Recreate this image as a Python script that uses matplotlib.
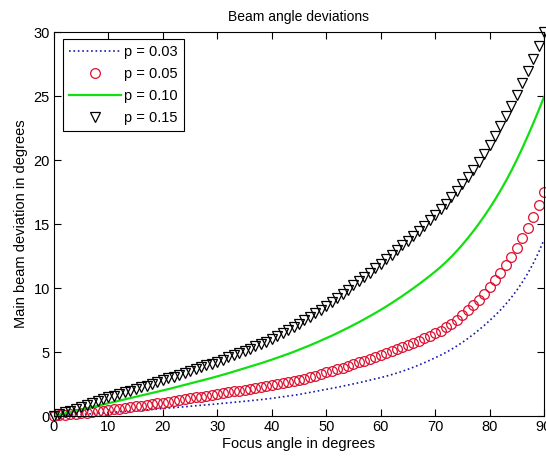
import matplotlib
matplotlib.use("Agg")
import matplotlib.pyplot as plt

plt.rcParams["font.family"] = ["Liberation Sans", "DejaVu Sans"]

focus_angle = list(range(0, 91))

dev_p003 = [
    0, 0.02, 0.05, 0.07, 0.1, 0.12,
    0.15, 0.18, 0.21, 0.24, 0.27,
    0.3, 0.33, 0.36, 0.39, 0.42,
    0.45, 0.48, 0.51, 0.55, 0.58,
    0.62, 0.65, 0.69, 0.72, 0.76,
    0.8, 0.84, 0.87, 0.91, 0.95,
    0.99, 1.03, 1.07, 1.11, 1.15,
    1.19, 1.24, 1.28, 1.33, 1.38,
    1.44, 1.5, 1.56, 1.62, 1.68,
    1.76, 1.84, 1.92, 2.0, 2.08,
    2.16, 2.24, 2.33, 2.42, 2.51,
    2.6, 2.7, 2.8, 2.9, 3.0,
    3.11, 3.23, 3.36, 3.5, 3.65,
    3.81, 3.98, 4.16, 4.35, 4.55,
    4.75, 4.97, 5.21, 5.47, 5.75,
    6.05, 6.37, 6.71, 7.07, 7.45,
    7.85, 8.28, 8.75, 9.26, 9.82,
    10.44, 11.13, 11.9, 12.77, 13.77,
]

dev_p005 = [
    0, 0.04, 0.09, 0.13, 0.18, 0.22,
    0.27, 0.32, 0.37, 0.42, 0.47,
    0.53, 0.58, 0.64, 0.69, 0.75,
    0.81, 0.87, 0.92, 0.98, 1.04,
    1.11, 1.18, 1.24, 1.31, 1.38,
    1.45, 1.52, 1.58, 1.65, 1.72,
    1.79, 1.85, 1.92, 1.98, 2.05,
    2.12, 2.19, 2.26, 2.33, 2.4,
    2.48, 2.56, 2.64, 2.72, 2.8,
    2.91, 3.02, 3.14, 3.27, 3.4,
    3.52, 3.65, 3.78, 3.91, 4.05,
    4.18, 4.32, 4.46, 4.6, 4.75,
    4.9, 5.05, 5.2, 5.36, 5.53,
    5.7, 5.88, 6.06, 6.25, 6.45,
    6.67, 6.92, 7.2, 7.52, 7.87,
    8.25, 8.66, 9.1, 9.57, 10.07,
    10.6, 11.17, 11.78, 12.43, 13.12,
    13.87, 14.68, 15.56, 16.5, 17.5,
]

dev_p010 = [
    0, 0.1, 0.2, 0.3, 0.4, 0.5,
    0.6, 0.7, 0.8, 0.9, 1.0,
    1.1, 1.2, 1.3, 1.4, 1.5,
    1.6, 1.7, 1.8, 1.9, 2.0,
    2.1, 2.21, 2.32, 2.43, 2.54,
    2.65, 2.76, 2.87, 2.98, 3.1,
    3.22, 3.34, 3.47, 3.6, 3.73,
    3.86, 3.99, 4.12, 4.26, 4.4,
    4.55, 4.7, 4.85, 5.01, 5.18,
    5.35, 5.52, 5.7, 5.89, 6.08,
    6.27, 6.47, 6.68, 6.89, 7.11,
    7.33, 7.56, 7.8, 8.04, 8.29,
    8.55, 8.82, 9.1, 9.38, 9.68,
    9.98, 10.29, 10.61, 10.94, 11.28,
    11.64, 12.03, 12.45, 12.9, 13.38,
    13.89, 14.43, 15.0, 15.6, 16.23,
    16.9, 17.61, 18.36, 19.16, 20.01,
    20.91, 21.86, 22.84, 23.86, 24.92,
]

dev_p015 = [
    0, 0.14, 0.28, 0.42, 0.56, 0.7,
    0.85, 1.0, 1.15, 1.3, 1.45,
    1.58, 1.71, 1.84, 1.97, 2.1,
    2.24, 2.38, 2.52, 2.66, 2.8,
    2.94, 3.08, 3.22, 3.36, 3.5,
    3.65, 3.8, 3.95, 4.1, 4.25,
    4.41, 4.58, 4.75, 4.92, 5.1,
    5.27, 5.45, 5.63, 5.81, 6.0,
    6.22, 6.45, 6.69, 6.94, 7.2,
    7.47, 7.74, 8.02, 8.31, 8.6,
    8.91, 9.22, 9.54, 9.87, 10.2,
    10.53, 10.86, 11.2, 11.55, 11.9,
    12.25, 12.6, 12.96, 13.33, 13.7,
    14.08, 14.47, 14.87, 15.28, 15.7,
    16.14, 16.6, 17.08, 17.58, 18.1,
    18.65, 19.23, 19.84, 20.49, 21.17,
    21.88, 22.62, 23.4, 24.22, 25.08,
    25.98, 26.92, 27.9, 28.92, 29.98,
]

labels = ["p = 0.03", "p = 0.05", "p = 0.10", "p = 0.15"]
x_ticks = [0, 10, 20, 30, 40, 50, 60, 70, 80, 90]
y_ticks = [0, 5, 10, 15, 20, 25, 30]

fig = plt.figure(figsize=(5.46, 4.58), dpi=100)
ax = fig.add_axes([54 / 546, 1 - 416 / 458, 490 / 546, 384 / 458])

ax.plot(focus_angle, dev_p003, linestyle=":", color="#1a1aa8", linewidth=1.2,
        label=labels[0])
ax.plot(focus_angle, dev_p005, linestyle="none", marker="o", markersize=7,
        markerfacecolor="none", markeredgecolor="#dc1030", markeredgewidth=0.9,
        label=labels[1], clip_on=False)
ax.plot(focus_angle, dev_p010, linestyle="-", color="#10e010", linewidth=1.6,
        label=labels[2])
ax.plot(focus_angle, dev_p015, linestyle="none", marker="v", markersize=7,
        markerfacecolor="none", markeredgecolor="black", markeredgewidth=0.9,
        label=labels[3], clip_on=False)

ax.set_xlim(0, 90)
ax.set_ylim(0, 30)
ax.set_xticks(x_ticks)
ax.set_yticks(y_ticks)
ax.tick_params(direction="in", top=True, right=True, length=5, labelsize=10.5,
               pad=3)

ax.set_title("Beam angle deviations", fontsize=10, pad=8)
ax.set_xlabel("Focus angle in degrees", fontsize=10.5, labelpad=2)
ax.set_ylabel("Main beam deviation in degrees", fontsize=10.5, labelpad=4)

leg = ax.legend(loc="upper left", bbox_to_anchor=(0.018, 0.982), borderaxespad=0,
                fontsize=10.5, numpoints=1, fancybox=False, framealpha=1,
                edgecolor="black", handlelength=3.6, handletextpad=0.2,
                labelspacing=0.55, borderpad=0.4)
leg.get_frame().set_linewidth(0.8)

fig.savefig("out.png", dpi=100)
